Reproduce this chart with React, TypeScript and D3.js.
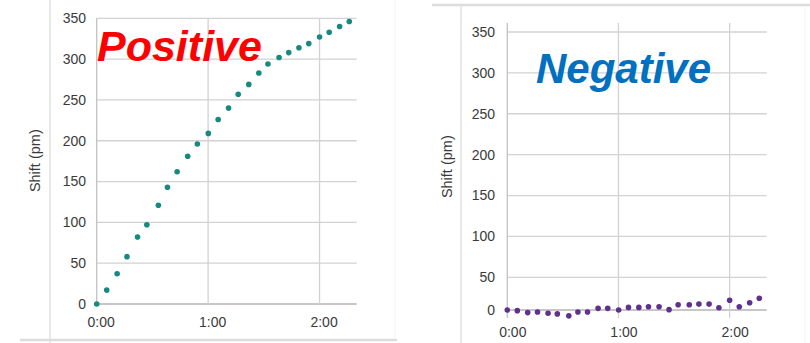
import React from "react";
import * as d3 from "d3";

// sample times in seconds (both runs sampled at about the same instants)
const times = [0, 5.4, 11, 16.3, 22, 27, 33.2, 38.1, 43.3, 49, 54.2, 60.1, 65.4, 71, 76.2, 81.9, 87.3, 92.2, 98.2, 103.4, 108.9, 114.2, 120, 125.2, 130.8, 136];

// shift in pm
const positiveShift = [0, 17, 37, 58, 82, 97, 121, 143, 162, 181, 196, 209, 226, 240, 257, 269, 283, 294, 302, 308, 314, 319, 327, 333, 340, 346];
const negativeShift = [0, -1, -4, -3, -5, -6, -9, -3, -3, 2.5, 2.5, 0, 4, 4, 5, 5, 0.5, 8, 8, 9, 9, 3.5, 15, 5, 11, 18];

const yTicks = [0, 50, 100, 150, 200, 250, 300, 350];
const xTicks = [0, 60, 120];
const xTickLabels = ["0:00", "1:00", "2:00"];

const FONT = "'Liberation Sans', Arial, sans-serif";

function Panel(props) {
    const { values, color, title, titleColor, titleX, titleY, titleSize, x0, x1, yScale, labelX, labelY, xLabelY, xLabelDx, yLabelX, vTop, vBottom } = props;
    const xScale = d3.scaleLinear().domain([0, 140]).range([x0, x1]);

    return (
        <g>
            {/* horizontal gridlines */}
            {yTicks.map((t) => (
                <line key={`h-${t}`} x1={x0} x2={x1} y1={yScale(t)} y2={yScale(t)}
                    stroke={t === 0 ? "#b4b4b4" : "#d2d2d2"} strokeWidth={1.3} />
            ))}
            {/* vertical gridlines + y axis */}
            {xTicks.map((t) => (
                <line key={`v-${t}`} x1={xScale(t)} x2={xScale(t)} y1={vTop} y2={vBottom}
                    stroke={t === 0 ? "#c2c2c2" : "#d2d2d2"} strokeWidth={1.3} />
            ))}
            {/* y tick labels */}
            {yTicks.map((t) => (
                <text key={`yl-${t}`} x={yLabelX} y={yScale(t)} dy="0.35em" textAnchor="end"
                    fontFamily={FONT} fontSize={14} fill="#3a3a3a">{t}</text>
            ))}
            {/* x tick labels */}
            {xTicks.map((t, i) => (
                <text key={`xl-${t}`} x={xScale(t) + xLabelDx} y={xLabelY} textAnchor="middle"
                    fontFamily={FONT} fontSize={14} fill="#3a3a3a">{xTickLabels[i]}</text>
            ))}
            {/* axis title */}
            <text transform={`translate(${labelX},${labelY}) rotate(-90)`} textAnchor="middle" dy="0.35em"
                fontFamily={FONT} fontSize={14.5} fill="#3a3a3a">Shift (pm)</text>
            {/* points */}
            {values.map((v, i) => (
                <circle key={`p-${i}`} cx={xScale(times[i])} cy={yScale(v)} r={2.8} fill={color} />
            ))}
            {/* big label */}
            <text x={titleX} y={titleY} fontFamily={FONT} fontWeight="bold" fontStyle="italic"
                fontSize={titleSize} fill={titleColor}>{title}</text>
        </g>
    );
}

export default function App() {
    const yLeft = d3.scaleLinear().domain([0, 350]).range([304, 18.3]);
    // right panel: the baseline band is squeezed in the original image
    const yRight = d3.scaleLinear().domain([-12, 0, 50, 361]).range([317.8, 310, 277.3, 23]);

    return (
        <svg width={810} height={343} style={{ position: "absolute", left: 0, top: 0, background: "#fff" }}>
            {/* panel frames */}
            <line x1={50} x2={50} y1={0} y2={343} stroke="#e2e2e2" strokeWidth={1.5} />
            <line x1={20} x2={397} y1={340} y2={340} stroke="#dcdcdc" strokeWidth={2.5} />
            <line x1={395} x2={395} y1={0} y2={338} stroke="#f2f2f2" strokeWidth={1} />
            <line x1={432} x2={810} y1={5} y2={5} stroke="#dcdcdc" strokeWidth={2.5} />
            <line x1={461} x2={461} y1={6} y2={343} stroke="#e2e2e2" strokeWidth={1.5} />
            <line x1={805} x2={805} y1={7} y2={343} stroke="#f2f2f2" strokeWidth={1} />

            <Panel values={positiveShift} color="#178a80" title="Positive" titleColor="#ff0000"
                titleX={97} titleY={61} titleSize={43}
                x0={96.7} x1={356.7} yScale={yLeft} vTop={18.3} vBottom={304}
                labelX={35} labelY={160.7} xLabelY={326.5} xLabelDx={4.5} yLabelX={86} />
            <Panel values={negativeShift} color="#61308f" title="Negative" titleColor="#0070c0"
                titleX={536} titleY={82.7} titleSize={42}
                x0={507.3} x1={766.7} yScale={yRight} vTop={23} vBottom={318}
                labelX={446.7} labelY={166.7} xLabelY={336.5} xLabelDx={5.5} yLabelX={495} />
        </svg>
    );
}
